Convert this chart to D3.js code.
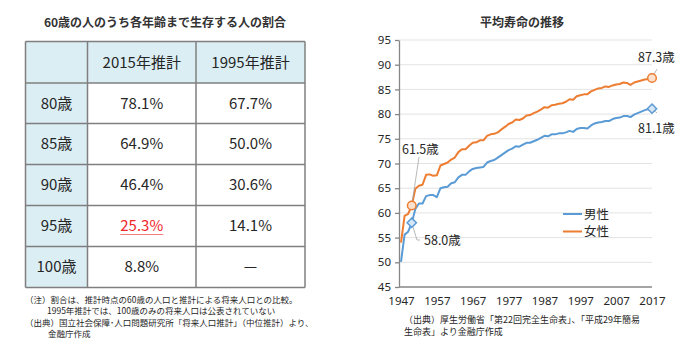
<!DOCTYPE html>
<html>
<head>
<meta charset="utf-8">
<script src="https://cdn.jsdelivr.net/npm/d3@7"></script>
<style>
  html, body { margin: 0; padding: 0; background: #fff; }
  svg { display: block; }
  text { font-family: "Noto Sans CJK JP", "Noto Sans", sans-serif; }
</style>
</head>
<body>
<svg id="chart" width="700" height="349"></svg>
<script>
// ---- Table: survival share of 60-year-olds to each age ----
const tableTitle = "60歳の人のうち各年齢まで生存する人の割合";
const tableColumns = ["2015年推計", "1995年推計"];
const ages = ["80歳", "85歳", "90歳", "95歳", "100歳"];
const share2015 = ["78.1%", "64.9%", "46.4%", "25.3%", "8.8%"];
const share1995 = ["67.7%", "50.0%", "30.6%", "14.1%", "—"];
const highlightRow = 3;
const tableNotes = [
  "（注）割合は、推計時点の60歳の人口と推計による将来人口との比較。",
  "1995年推計では、100歳のみの将来人口は公表されていない",
  "（出典）国立社会保障･人口問題研究所「将来人口推計」（中位推計）より、",
  "金融庁作成"
];
const tableNoteIndent = [0, 22, 0, 23];

// ---- Line chart: average life expectancy ----
const chartTitle = "平均寿命の推移";
const years = d3.range(1947, 2018);
const male = [50.1, 55.6, 56.2, 58.0, 60.8, 61.9, 61.9, 63.4, 63.6, 63.6,
  63.2, 65.0, 65.2, 65.3, 66.0, 66.2, 67.2, 67.7, 67.7, 68.4,
  68.9, 69.1, 69.2, 69.3, 70.2, 70.5, 70.7, 71.2, 71.7, 72.2,
  72.7, 73.0, 73.5, 73.4, 73.8, 74.2, 74.2, 74.5, 74.8, 75.2,
  75.6, 75.5, 75.9, 75.9, 76.1, 76.1, 76.3, 76.6, 76.4, 77.0,
  77.2, 77.2, 77.1, 77.7, 78.1, 78.3, 78.4, 78.6, 78.6, 79.0,
  79.2, 79.3, 79.6, 79.6, 79.4, 79.9, 80.2, 80.5, 80.8, 81.0, 81.1];
const female = [54.0, 59.4, 59.8, 61.5, 64.9, 65.5, 65.7, 67.7, 67.8, 67.5,
  67.6, 69.6, 69.9, 70.2, 70.8, 71.2, 72.3, 72.9, 72.9, 73.6,
  74.2, 74.3, 74.7, 74.7, 75.6, 75.9, 76.0, 76.3, 76.9, 77.4,
  78.0, 78.3, 78.9, 78.8, 79.1, 79.7, 79.8, 80.2, 80.5, 80.9,
  81.4, 81.3, 81.8, 81.9, 82.1, 82.2, 82.5, 83.0, 82.9, 83.6,
  83.8, 84.0, 84.0, 84.6, 84.9, 85.2, 85.3, 85.6, 85.5, 85.8,
  86.0, 86.1, 86.4, 86.3, 85.9, 86.4, 86.6, 86.8, 87.0, 87.1, 87.3];
const seriesNames = ["男性", "女性"];
const yTicks = d3.range(45, 96, 5);
const xTicks = d3.range(1947, 2018, 10);
const markedYears = [1950, 2017];
const chartSource = [
  "（出典）厚生労働省「第22回完全生命表」、「平成29年簡易",
  "生命表」より金融庁作成"
];

const svg = d3.select("#chart");
const textColor = "#262626";

// ================= table =================
svg.append("text")
  .attr("x", 165).attr("y", 26.5)
  .attr("text-anchor", "middle")
  .attr("font-size", 12).attr("font-weight", 700)
  .attr("fill", "#333")
  .text(tableTitle);

const colEdges = [25.5, 87.5, 196, 305];
const rowEdges = [41.5, 83, 123.5, 164.5, 205.5, 246.5, 287.5];
const fillBlue = "#dbeef4";
const borderColor = "#7f7f7f";

const tbl = svg.append("g");
// shaded header row and first column
tbl.append("rect")
  .attr("x", colEdges[0]).attr("y", rowEdges[0])
  .attr("width", colEdges[3] - colEdges[0]).attr("height", rowEdges[1] - rowEdges[0])
  .attr("fill", fillBlue);
tbl.append("rect")
  .attr("x", colEdges[0]).attr("y", rowEdges[1])
  .attr("width", colEdges[1] - colEdges[0]).attr("height", rowEdges[6] - rowEdges[1])
  .attr("fill", fillBlue);
// grid lines
tbl.selectAll("line.h").data(rowEdges).join("line")
  .attr("x1", colEdges[0]).attr("x2", colEdges[3])
  .attr("y1", d => d).attr("y2", d => d)
  .attr("stroke", borderColor).attr("stroke-width", 1.5);
tbl.selectAll("line.v").data(colEdges).join("line")
  .attr("y1", rowEdges[0]).attr("y2", rowEdges[6])
  .attr("x1", d => d).attr("x2", d => d)
  .attr("stroke", borderColor).attr("stroke-width", 1.5);

const colMid = i => (colEdges[i] + colEdges[i + 1]) / 2;
const rowMid = i => (rowEdges[i] + rowEdges[i + 1]) / 2;
const cellFont = 15;

tableColumns.forEach((c, i) => {
  tbl.append("text")
    .attr("x", colMid(i + 1)).attr("y", rowMid(0))
    .attr("dy", "0.36em").attr("text-anchor", "middle")
    .attr("font-size", cellFont).attr("fill", textColor)
    .text(c);
});
ages.forEach((a, r) => {
  tbl.append("text")
    .attr("x", colMid(0)).attr("y", rowMid(r + 1))
    .attr("dy", "0.36em").attr("text-anchor", "middle")
    .attr("font-size", cellFont).attr("fill", textColor)
    .text(a);
  [share2015[r], share1995[r]].forEach((v, c) => {
    const hl = r === highlightRow && c === 0;
    const t = tbl.append("text")
      .attr("x", colMid(c + 1)).attr("y", rowMid(r + 1))
      .attr("dy", "0.36em").attr("text-anchor", "middle")
      .attr("font-size", cellFont)
      .attr("fill", hl ? "#f0262b" : textColor)
      .text(v);
    if (hl) {
      const w = t.node().getComputedTextLength();
      tbl.append("line")
        .attr("x1", colMid(c + 1) - w / 2).attr("x2", colMid(c + 1) + w / 2)
        .attr("y1", rowMid(r + 1) + 8.5).attr("y2", rowMid(r + 1) + 8.5)
        .attr("stroke", "#f47f83").attr("stroke-width", 1);
    }
  });
});

// notes under the table as one multi-line text block
const notes = svg.append("text")
  .attr("y", 303)
  .attr("font-size", 8.5)
  .attr("fill", textColor);
notes.selectAll("tspan").data(tableNotes).join("tspan")
  .attr("x", (d, i) => 25 + tableNoteIndent[i])
  .attr("dy", (d, i) => i === 0 ? 0 : 11.3)
  .text(d => d);

// ================= line chart =================
const x = d3.scaleLinear().domain([1947, 2017]).range([401, 652]);
const y = d3.scaleLinear().domain([45, 95]).range([287, 40]);
const axisLeft = 399;

svg.append("text")
  .attr("x", 522).attr("y", 26.5)
  .attr("text-anchor", "middle")
  .attr("font-size", 12).attr("font-weight", 700)
  .attr("fill", "#333")
  .text(chartTitle);

// horizontal gridlines
svg.append("g").selectAll("line").data(yTicks.filter(t => t > 45)).join("line")
  .attr("x1", axisLeft).attr("x2", 652)
  .attr("y1", d => y(d)).attr("y2", d => y(d))
  .attr("stroke", "#e3e3e3").attr("stroke-width", 1);

// y axis
const gy = svg.append("g").attr("transform", `translate(${axisLeft},0)`)
  .call(d3.axisLeft(y).tickValues(yTicks).tickSize(4).tickPadding(4).tickSizeOuter(0));
gy.select(".domain").attr("stroke", "#868686").attr("stroke-width", 1.3);
gy.selectAll(".tick line").attr("stroke", "#868686").attr("stroke-width", 1.3);
gy.selectAll("text").attr("font-size", 11.5).attr("fill", textColor)
  .style("font-family", "'Noto Sans', sans-serif");

// x axis
const gx = svg.append("g").attr("transform", `translate(0,${y(45)})`)
  .call(d3.axisBottom(x).tickValues(xTicks).tickFormat(d3.format("d")).tickSize(0).tickPadding(10));
gx.select(".domain").attr("stroke", "#868686").attr("stroke-width", 1.3)
  .attr("d", `M${axisLeft},0H652`);
gx.selectAll("text").attr("font-size", 11.5).attr("fill", textColor)
  .style("font-family", "'Noto Sans', sans-serif");

const colors = ["#5b9bd5", "#ed7d31"];
const seriesData = [male, female];
const line = d3.line().x((d, i) => x(years[i])).y(d => y(d));

seriesData.forEach((s, k) => {
  svg.append("path").datum(s)
    .attr("d", line)
    .attr("fill", "none")
    .attr("stroke", colors[k]).attr("stroke-width", 2)
    .attr("stroke-linejoin", "round");
});

// leader lines from the marked points to their value labels
const labelSpecs = [
  { s: 0, year: 1950, tx: 424, ty: 245, end: [[417, 240], [420, 240]] },
  { s: 1, year: 1950, tx: 402, ty: 154, end: [[419, 157]] },
  { s: 0, year: 2017, tx: 638, ty: 133, end: [[657, 113]] },
  { s: 1, year: 2017, tx: 638, ty: 62, end: [[657, 69]] }
];
labelSpecs.forEach(l => {
  const v = seriesData[l.s][years.indexOf(l.year)];
  const pts = [[x(l.year), y(v)]].concat(l.end);
  svg.append("path")
    .attr("d", d3.line()(pts))
    .attr("fill", "none").attr("stroke", "#a6a6a6").attr("stroke-width", 0.8);
  svg.append("text")
    .attr("x", l.tx).attr("y", l.ty)
    .attr("font-size", 12.5).attr("fill", textColor)
    .text(d3.format(".1f")(v) + "歳");
});

// markers
markedYears.forEach(yr => {
  const i = years.indexOf(yr);
  const d = d3.symbol().type(d3.symbolDiamond2).size(55)();
  svg.append("path")
    .attr("d", d)
    .attr("transform", `translate(${x(yr)},${y(male[i])})`)
    .attr("fill", "#d6e6f5").attr("stroke", colors[0]).attr("stroke-width", 1.5);
  svg.append("circle")
    .attr("cx", x(yr)).attr("cy", y(female[i])).attr("r", 4.3)
    .attr("fill", "#fbe0cd").attr("stroke", colors[1]).attr("stroke-width", 1.5);
});

// legend
const legend = svg.append("g");
seriesNames.forEach((n, k) => {
  const ly = 214 + k * 17.5;
  legend.append("line")
    .attr("x1", 563).attr("x2", 582).attr("y1", ly).attr("y2", ly)
    .attr("stroke", colors[k]).attr("stroke-width", 2);
  legend.append("text")
    .attr("x", 584).attr("y", ly).attr("dy", "0.36em")
    .attr("font-size", 12.5).attr("fill", textColor)
    .text(n);
});

// source note
const src = svg.append("text")
  .attr("y", 323)
  .attr("font-size", 9).attr("fill", textColor);
src.selectAll("tspan").data(chartSource).join("tspan")
  .attr("x", 404)
  .attr("dy", (d, i) => i === 0 ? 0 : 11.5)
  .text(d => d);
</script>
</body>
</html>
